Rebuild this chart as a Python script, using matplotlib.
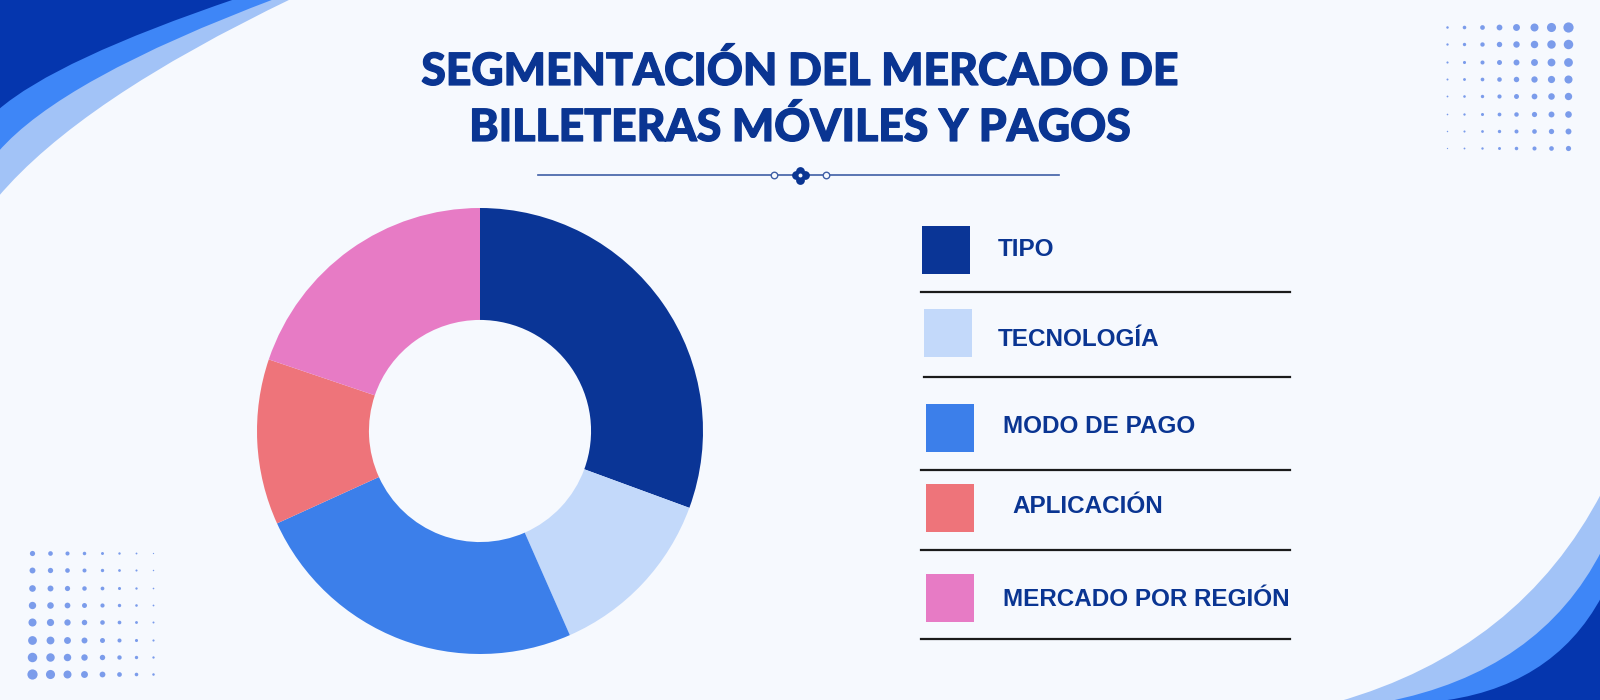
import numpy as np
import matplotlib.pyplot as plt
import matplotlib.patheffects as pe
from matplotlib.patches import Rectangle, PathPatch
from matplotlib.path import Path

# datos del gráfico
categorias = ["TIPO", "TECNOLOGÍA", "MODO DE PAGO", "APLICACIÓN", "MERCADO POR REGIÓN"]
participacion = [30.6, 12.8, 24.8, 12.0, 19.8]
colores = ["#0A3596", "#C3D9FA", "#3C7FEA", "#EE747A", "#E77BC5"]
titulo = ["SEGMENTACIÓN DEL MERCADO DE", "BILLETERAS MÓVILES Y PAGOS"]

# diseño (pixeles, origen arriba a la izquierda)
W, H = 1600, 700
fondo = "#F6F9FE"
azul_texto = "#0A3592"
fila_cuadro_x = [922, 924, 926, 926, 926]
fila_cuadro_y = [226, 309, 404, 484, 574]
fila_texto_x = [998, 998, 1003, 1012, 1003]
fila_texto_base = [256, 345.5, 433, 513, 606.5]
fila_linea = [(921, 292), (924, 377), (921, 470), (921, 550), (921, 639)]

fig = plt.figure(figsize=(16, 7), dpi=100, facecolor=fondo)
bg = fig.add_axes([0, 0, 1, 1])
bg.set_xlim(0, W)
bg.set_ylim(H, 0)
bg.axis("off")


def onda(p0, c, p2, esquina, color):
    verts = [p0, c, p2, esquina, p0]
    codes = [Path.MOVETO, Path.CURVE3, Path.CURVE3, Path.LINETO, Path.CLOSEPOLY]
    bg.add_patch(PathPatch(Path(verts, codes), facecolor=color, edgecolor="none", zorder=1))


# ondas decorativas
onda((-2, 197), (80, 100), (293, -2), (-2, -2), "#A2C3F7")
onda((-2, 152), (61, 79), (277, -2), (-2, -2), "#3E86F7")
onda((-2, 110), (55, 60), (238, -2), (-2, -2), "#0536AE")

onda((1337, 702), (1520, 650), (1602, 492), (1602, 702), "#A2C3F7")
onda((1385, 702), (1540, 672), (1602, 550), (1602, 702), "#3E86F7")
onda((1432, 702), (1552, 690), (1602, 596), (1602, 702), "#0536AE")

# puntos decorativos
for i in range(8):
    for j in range(8):
        d = (2.5 + 1.1 * i) * (1 - 0.07 * j)
        bg.scatter(1447 + 17.3 * i, 26.7 + 17.4 * j, s=(d * 0.72) ** 2,
                   color="#7B9CEB", linewidths=0, zorder=2)
        d = (2.5 + 1.1 * (7 - i)) * (1 - 0.07 * (7 - j))
        bg.scatter(32.3 + 17.3 * i, 553 + 17.3 * j, s=(d * 0.72) ** 2,
                   color="#7B9CEB", linewidths=0, zorder=2)

# titulo
grueso = [pe.withStroke(linewidth=0.9, foreground=azul_texto)]
t1 = bg.text(800, 85, titulo[0], ha="center", va="baseline", color=azul_texto,
             fontsize=36, family="Lato", fontweight="black", zorder=3,
             path_effects=grueso)
t2 = bg.text(800, 141, titulo[1], ha="center", va="baseline", color=azul_texto,
             fontsize=36, family="Lato", fontweight="black", zorder=3,
             path_effects=grueso)
fig.canvas.draw()
ancho = t1.get_window_extent().width
t1.set_fontsize(36 * 756 / ancho)
t2.set_fontsize(36 * 756 / ancho)

# separador con adorno
bg.plot([538, 1059], [175, 175], color="#3F5FA6", lw=1.2, zorder=3)
bg.scatter([774, 826], [175, 175], s=22, facecolor=fondo, edgecolor="#3F5FA6",
           linewidths=1.0, zorder=4)
for dx, dy in [(-4.5, 0), (4.5, 0), (0, -4.5), (0, 4.5)]:
    bg.scatter(800 + dx, 175 + dy, s=40, color="#0A3592", linewidths=0, zorder=4)
bg.scatter(800, 175, s=8, color=fondo, linewidths=0, zorder=5)

# leyenda
for k, cat in enumerate(categorias):
    bg.add_patch(Rectangle((fila_cuadro_x[k], fila_cuadro_y[k]), 48, 48,
                           facecolor=colores[k], edgecolor="none", zorder=3))
    bg.text(fila_texto_x[k], fila_texto_base[k], cat, ha="left", va="baseline",
            color=azul_texto, fontsize=17.5, family="Liberation Sans",
            fontweight="bold", zorder=3)
    x0, y0 = fila_linea[k]
    bg.plot([x0, 1290], [y0, y0], color="#1B1B1B", lw=1.6, zorder=3)

# dona
cx, cy, r = 480, 431, 223
ax = fig.add_axes([(cx - r) / W, (H - cy - r) / H, 2 * r / W, 2 * r / H])
ax.pie(participacion, colors=colores, startangle=90, counterclock=False,
       radius=1, wedgeprops=dict(width=0.502, linewidth=0))
ax.set_xlim(-1, 1)
ax.set_ylim(-1, 1)
ax.set_aspect("equal")
ax.axis("off")

fig.savefig("out.png", dpi=100, facecolor=fondo)
